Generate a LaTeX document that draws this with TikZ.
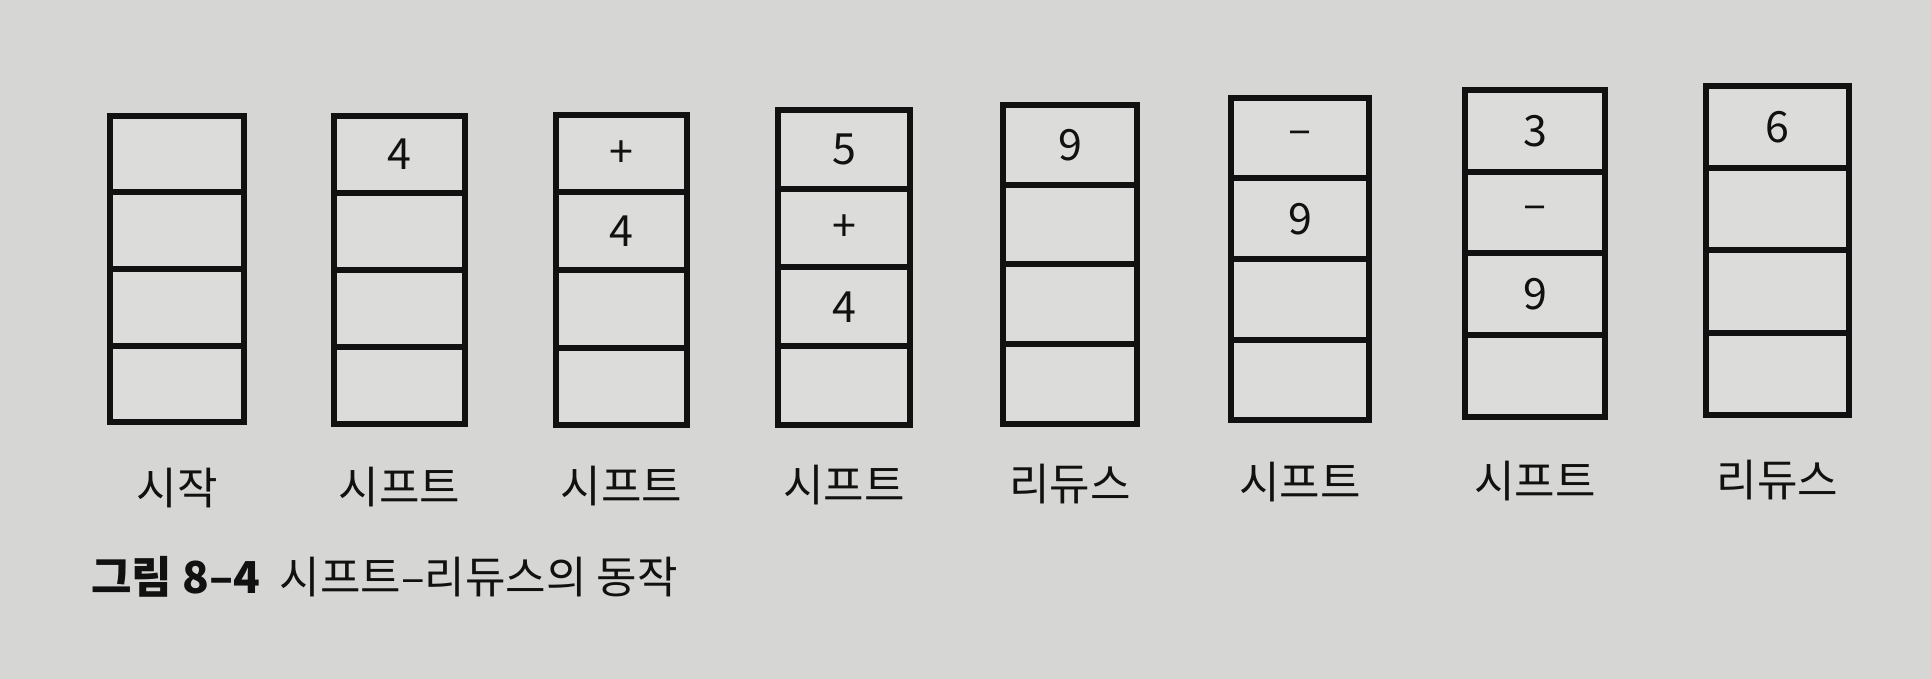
\documentclass[tikz,border=0pt]{standalone}
\usepackage{fontspec}
\setmainfont{Noto Sans CJK KR}
\definecolor{paper}{RGB}{214,214,212}
\definecolor{cellfill}{RGB}{220,220,218}
\definecolor{ink}{RGB}{17,17,17}
\tikzset{
  cellbox/.style={draw=ink, line width=6pt, fill=cellfill, inner sep=0pt,
    font=\fontsize{43}{43}\selectfont, text=ink},
  lab/.style={font=\fontsize{44}{44}\selectfont, text=ink, inner sep=0pt},
  captext/.style={font=\fontsize{44}{44}\selectfont, text=ink, inner sep=0pt, anchor=west}
}
\newcommand\drawstack[7]{%
  \pgfmathsetmacro\sw{#3-#2-6}%
  \pgfmathsetmacro\sh{(#5-#4-6)/4}%
  \pgfmathsetmacro\sx{(#2+#3)/2}%
  \foreach \txt [count=\j] in {#6}{%
    \pgfmathsetmacro\sy{#4+3+(\j-0.5)*\sh}%
    \node[cellbox, minimum width=\sw pt, minimum height=\sh pt] (s#1c\j) at (\sx,\sy) {\txt};
  }%
  \pgfmathsetmacro\ly{488-(#1-1)*1.1}%
  \node[lab] (l#1) at (\sx,\ly) {#7};
}
\begin{document}
\begin{tikzpicture}[x=1pt,y=-1pt]
\fill[paper] (0,0) rectangle (1931,679);
\useasboundingbox (0,0) rectangle (1931,679);
\drawstack{1}{107}{247}{113}{425}{{},{},{},{}}{시작}
\drawstack{2}{331}{468}{113}{427}{4,{},{},{}}{시프트}
\drawstack{3}{553}{690}{112}{428}{+,4,{},{}}{시프트}
\drawstack{4}{775}{913}{107}{428}{5,+,4,{}}{시프트}
\drawstack{5}{1000}{1140}{102}{427}{9,{},{},{}}{리듀스}
\drawstack{6}{1228}{1372}{95}{423}{–,9,{},{}}{시프트}
\drawstack{7}{1462}{1608}{87}{420}{3,–,9,{}}{시프트}
\drawstack{8}{1703}{1852}{83}{418}{6,{},{},{}}{리듀스}
\node[captext] (cap) at (91,577) {\textbf{그림 8–4}\hspace{0.45em}시프트–리듀스의 동작};
\end{tikzpicture}
\end{document}
